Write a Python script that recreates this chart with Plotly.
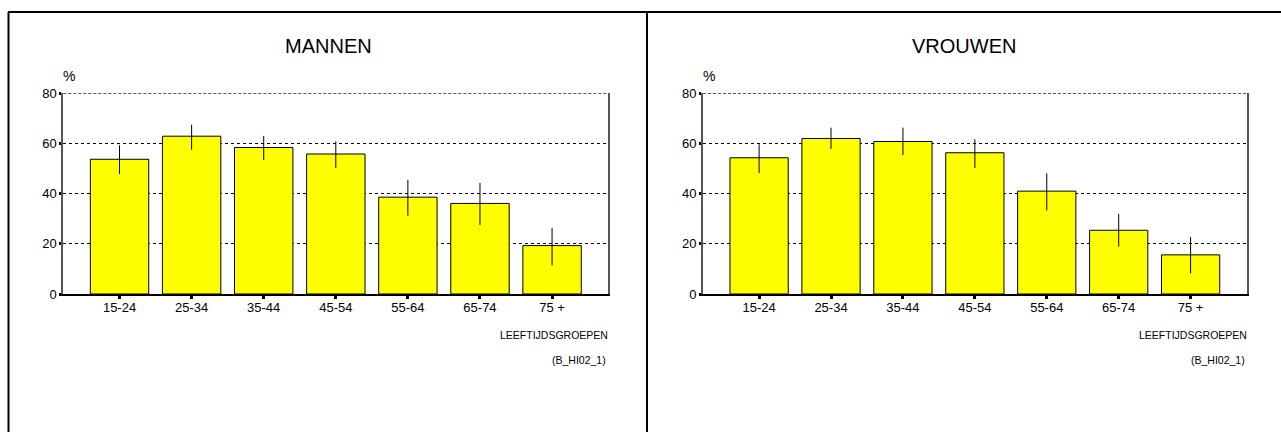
import plotly.graph_objects as go

categories = ["15-24", "25-34", "35-44", "45-54", "55-64", "65-74", "75 +"]

men_values = [53.7, 62.9, 58.4, 55.8, 38.6, 36.1, 19.3]
men_lower = [47.8, 57.5, 53.4, 50.2, 31.2, 27.5, 11.4]
men_upper = [59.3, 67.5, 63.0, 60.9, 45.5, 44.3, 26.4]

women_values = [54.3, 62.0, 60.8, 56.3, 41.0, 25.4, 15.6]
women_lower = [48.2, 57.8, 55.4, 50.2, 33.3, 18.9, 8.2]
women_upper = [59.7, 66.3, 66.3, 61.7, 48.1, 32.0, 22.7]

y_ticks = [0, 20, 40, 60, 80]
y_max = 80
panel_titles = ["MANNEN", "VROUWEN"]
x_title = "LEEFTIJDSGROEPEN"
source_label = "(B_HI02_1)"
y_unit = "%"

W, H = 1281, 432
FONT = "Liberation Sans, Arial, sans-serif"


def px(x):
    return x / W


def py(y):
    return 1 - y / H


fig = go.Figure()

series = [
    (men_values, men_lower, men_upper, "x", "y"),
    (women_values, women_lower, women_upper, "x2", "y2"),
]
for vals, lo, hi, xa, ya in series:
    fig.add_trace(go.Bar(
        x=list(range(len(categories))),
        y=vals,
        width=0.81,
        marker=dict(color="#FFFF00", line=dict(color="black", width=1)),
        error_y=dict(
            type="data", symmetric=False,
            array=[h - v for h, v in zip(hi, vals)],
            arrayminus=[v - l for v, l in zip(vals, lo)],
            color="black", thickness=1, width=0,
        ),
        xaxis=xa, yaxis=ya, showlegend=False, hoverinfo="skip",
    ))

ydom = [py(294), py(93.3)]
xdoms = [[px(63.3), px(608.3)], [px(703), px(1246.7)]]

xaxis_common = dict(
    range=[-0.78, 6.78],
    tickmode="array",
    tickvals=list(range(len(categories))),
    ticktext=categories,
    showline=True, linecolor="black", linewidth=2,
    ticks="outside", ticklen=3, tickwidth=3, tickcolor="black",
    ticklabelstandoff=-3,
    showgrid=False, zeroline=False,
    tickfont=dict(family=FONT, size=13, color="black"),
    fixedrange=True,
)
yaxis_common = dict(
    range=[0, y_max],
    tickmode="array", tickvals=y_ticks,
    showline=True, linecolor="#555555", linewidth=2, mirror=True,
    ticks="outside", ticklen=2, tickwidth=3, tickcolor="black",
    showgrid=True, gridcolor="black", gridwidth=1, griddash="dot",
    zeroline=False,
    tickfont=dict(family=FONT, size=13, color="black"),
    fixedrange=True,
)

fig.update_layout(
    width=W, height=H,
    margin=dict(l=0, r=0, t=0, b=0, pad=0, autoexpand=False),
    paper_bgcolor="white", plot_bgcolor="white",
    bargap=0,
    xaxis=dict(domain=xdoms[0], anchor="y", **xaxis_common),
    yaxis=dict(domain=ydom, anchor="x", **yaxis_common),
    xaxis2=dict(domain=xdoms[1], anchor="y2", **xaxis_common),
    yaxis2=dict(domain=ydom, anchor="x2", **yaxis_common),
)

# Top (80) dashed frame line of each plot area
for xr, yr in [("x domain", "y"), ("x2 domain", "y2")]:
    fig.add_shape(type="line", xref=xr, yref=yr, x0=0, x1=1, y0=y_max, y1=y_max,
                  line=dict(color="#222222", width=1.5, dash="3px,2px"), layer="below")

# Panel frame
frame_line = dict(color="black", width=2)
fig.add_shape(type="line", xref="paper", yref="paper",
              x0=px(8), x1=1, y0=py(12), y1=py(12), line=frame_line)
fig.add_shape(type="line", xref="paper", yref="paper",
              x0=px(8.5), x1=px(8.5), y0=0, y1=py(12), line=frame_line)
fig.add_shape(type="line", xref="paper", yref="paper",
              x0=px(647), x1=px(647), y0=0, y1=py(12), line=frame_line)

panel_centers = [328, 964]
axis_lefts = [63.3, 703]
axis_rights = [608.3, 1246.7]
for i in range(2):
    fig.add_annotation(text=panel_titles[i], xref="paper", yref="paper",
                       x=px(panel_centers[i]), y=py(46), xanchor="center", yanchor="middle",
                       showarrow=False, font=dict(family=FONT, size=20, color="black"))
    fig.add_annotation(text=y_unit, xref="paper", yref="paper",
                       x=px(axis_lefts[i] + 6), y=py(76), xanchor="center", yanchor="middle",
                       showarrow=False, font=dict(family=FONT, size=14, color="black"))
    fig.add_annotation(text=x_title, xref="paper", yref="paper",
                       x=px(axis_rights[i] + 2), y=py(335), xanchor="right", yanchor="middle",
                       showarrow=False, font=dict(family=FONT, size=10.5, color="black"))
    fig.add_annotation(text=source_label, xref="paper", yref="paper",
                       x=px(axis_rights[i]), y=py(360), xanchor="right", yanchor="middle",
                       showarrow=False, font=dict(family=FONT, size=10.5, color="black"))

fig.write_html(
    "out.html",
    config={"displayModeBar": False, "staticPlot": True},
    post_script="document.body.style.margin='0';document.body.style.overflow='hidden';",
)
